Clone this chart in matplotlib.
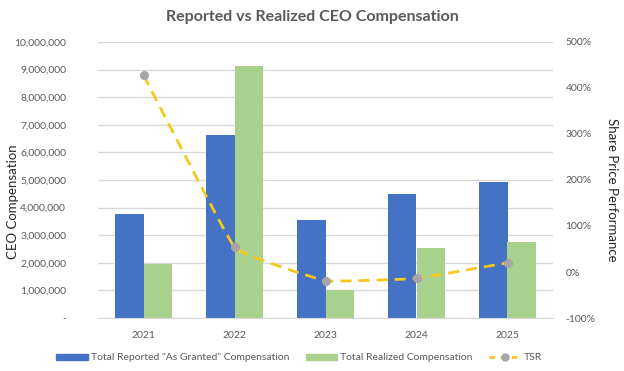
import numpy as np
import matplotlib
matplotlib.use("Agg")
import matplotlib.pyplot as plt
from matplotlib.path import Path
from matplotlib.patches import PathPatch, Patch
from matplotlib.lines import Line2D
from matplotlib.ticker import FuncFormatter

years = ["2021", "2022", "2023", "2024", "2025"]
reported = [3770000, 6630000, 3550000, 4500000, 4930000]
realized = [1970000, 9120000, 1030000, 2520000, 2770000]
tsr = [428, 54, -19, -14, 20]  # percent

plt.rcParams['font.family'] = ['Lato', 'DejaVu Sans']
grey_txt = '#595959'
c_blue = '#4472C4'
c_green = '#A9D18E'
c_line = '#F6C81E'
c_mark = '#A5A5A5'


def smooth_path(x, y, k=0.04):
    """cubic bezier through the points (light excel style smoothing)"""
    x = np.asarray(x, float); y = np.asarray(y, float)
    n = len(x)
    verts = [(x[0], y[0])]
    codes = [Path.MOVETO]
    for i in range(n - 1):
        i0 = max(i - 1, 0); i3 = min(i + 2, n - 1)
        c1 = (x[i] + (x[i+1] - x[i0]) * k, y[i] + (y[i+1] - y[i0]) * k)
        c2 = (x[i+1] - (x[i3] - x[i]) * k, y[i+1] - (y[i3] - y[i]) * k)
        verts += [c1, c2, (x[i+1], y[i+1])]
        codes += [Path.CURVE4] * 3
    return Path(verts, codes)


fig = plt.figure(figsize=(6.24, 3.71), dpi=100)
ax = fig.add_axes([98/624, 1-318/371, 455/624, 276/371])
ax2 = ax.twinx()

xs = np.arange(len(years))
w = 0.315
ax.bar(xs - w/2, reported, w, color=c_blue, zorder=2)
ax.bar(xs + w/2, realized, w, color=c_green, zorder=2)

ax.set_ylim(0, 10000000)
ax.set_xlim(-0.5, len(years) - 0.5)
ax.set_yticks(np.arange(0, 10000001, 1000000))
ax.yaxis.set_major_formatter(FuncFormatter(lambda v, p: '-' if v == 0 else f'{int(v):,}'))
ax.set_xticks(xs)
ax.set_xticklabels(years)
ax.grid(axis='y', color='#D9D9D9', lw=1, zorder=0)
ax.set_axisbelow(True)

ax2.set_ylim(-100, 500)
ax2.set_yticks(np.arange(-100, 501, 100))
ax2.yaxis.set_major_formatter(FuncFormatter(lambda v, p: f'{int(v)}%'))

# dashed TSR line, lightly smoothed
ax2.add_patch(PathPatch(smooth_path(xs, tsr), fill=False, edgecolor=c_line,
                        lw=2, ls=(0, (4, 2.5)), zorder=3))
ax2.plot(xs, tsr, ls='none', marker='o', ms=5.5, color=c_mark, zorder=4)

for a in (ax, ax2):
    for s in a.spines.values():
        s.set_visible(False)
    a.tick_params(length=0, labelsize=7.5, labelcolor=grey_txt)
ax.tick_params(axis='y', pad=23)
ax2.tick_params(axis='y', pad=9)
ax.tick_params(axis='x', pad=9)
ax.spines['bottom'].set_visible(True)
ax.spines['bottom'].set_color('#D9D9D9')

fig.text(13/624, 1-202/371, 'CEO Compensation', rotation=90, ha='center',
         va='center', fontsize=9.5, color='#262626')
fig.text(612/624, 1-190/371, 'Share Price Performance', rotation=270, ha='center',
         va='center', fontsize=9.5, color='#262626')

fig.text(0.5, 1-17/371, 'Reported vs Realized CEO Compensation', ha='center',
         va='center', fontsize=11.5, fontweight='bold', color=grey_txt)

handles = [Patch(color=c_blue), Patch(color=c_green),
           Line2D([], [], color=c_line, ls=(0, (2, 2)), lw=2, marker='o',
                  ms=5, mfc=c_mark, mec=c_mark)]
labels = ['Total Reported "As Granted" Compensation', 'Total Realized Compensation', 'TSR']
leg = fig.legend(handles, labels, loc='center', bbox_to_anchor=(299/624, 1-358/371),
                 ncol=3, frameon=False, fontsize=7.5, handlelength=3.0,
                 handleheight=0.5, handletextpad=0.3, columnspacing=1.6)
for t in leg.get_texts():
    t.set_color(grey_txt)

fig.savefig('out.png', dpi=100)
